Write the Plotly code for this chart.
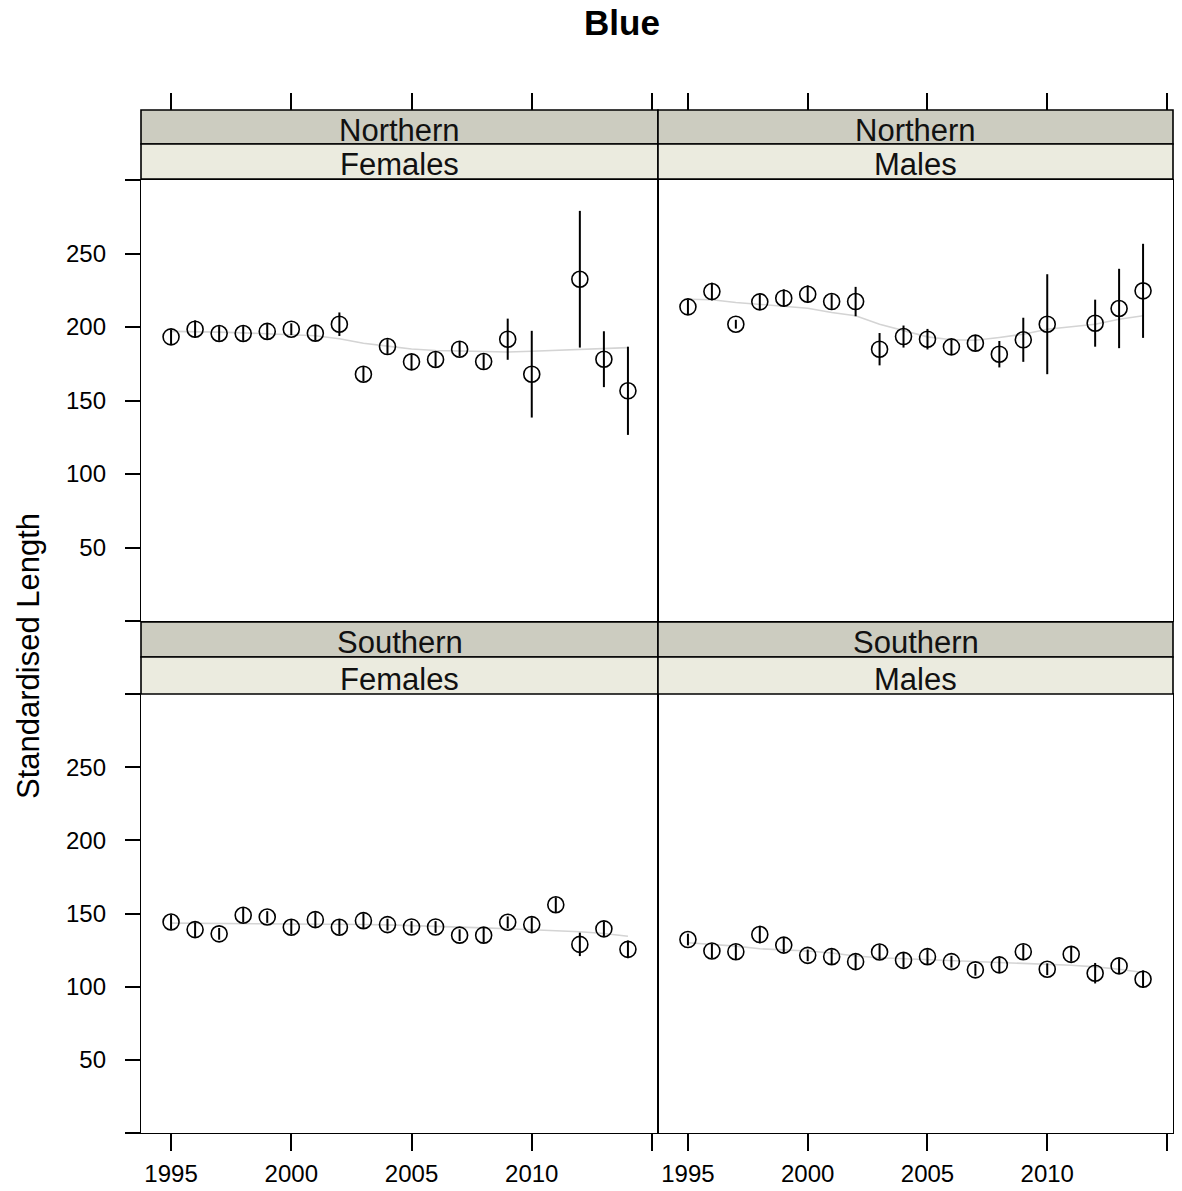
import plotly.graph_objects as go

# ---------------- data ----------------
years_north = [1995, 1996, 1997, 1998, 1999, 2000, 2001, 2002, 2003, 2004,
               2005, 2006, 2007, 2008, 2009, 2010, 2012, 2013, 2014]
years_south = [1995, 1996, 1997, 1998, 1999, 2000, 2001, 2002, 2003, 2004,
               2005, 2006, 2007, 2008, 2009, 2010, 2011, 2012, 2013, 2014]

nf_mean = [193.3, 198.5, 195.6, 195.6, 197.0, 198.5, 195.8, 201.9, 167.9, 186.7,
           176.3, 177.9, 184.9, 176.5, 191.7, 167.9, 232.5, 178.1, 156.6]
nf_err = [5, 6, 5, 5, 5, 4, 5, 8, 5, 5, 5, 5, 5, 5, 14, 29.5, 46.5, 19, 30]
nf_smooth = [197, 197, 196.5, 196, 195.5, 195, 194, 192, 189, 187,
             185, 184, 183.5, 183.5, 183, 183.5, 185, 185.5, 186]

nm_mean = [213.7, 224.1, 201.9, 217.1, 219.6, 222.3, 217.3, 217.3, 184.9, 193.5,
           191.7, 186.5, 189.0, 181.5, 191.3, 201.9, 202.6, 212.6, 224.6]
nm_err = [5, 6, 3, 5, 6, 6, 5, 10, 11, 7.5, 7, 5, 5, 9, 15, 34, 16, 27, 32]
nm_smooth = [218.9, 218.5, 216.7, 215.5, 214.4, 212.8, 209.9, 207.6, 201.9, 197.4,
             193.3, 191.3, 191.0, 192.9, 195.1, 198.5, 201.9, 205.3, 207.6]

sf_mean = [144.2, 139.0, 136.1, 148.8, 147.6, 140.6, 145.8, 140.6, 145.1, 142.4,
           140.8, 140.8, 135.2, 135.2, 144.0, 142.4, 156.0, 128.9, 139.5, 125.5]
sf_err = [5, 5, 4, 5, 4, 5, 5, 5, 5, 4, 4, 4, 4, 5, 4, 5, 5, 8, 5, 6]
sf_smooth = [143.4, 143.3, 143.2, 143.2, 143.2, 143.1, 143.0, 142.8, 142.5, 142.2,
             141.8, 141.3, 140.8, 140.2, 139.6, 139.0, 138.3, 137.5, 136.3, 134.5]

sm_mean = [132.2, 124.4, 123.9, 135.6, 128.4, 121.4, 120.5, 117.1, 123.7, 118.0,
           120.5, 117.1, 111.5, 114.9, 123.9, 111.9, 122.1, 109.2, 114.2, 105.1]
sm_err = [4, 5, 5, 6, 5, 4, 5, 5, 5, 5, 5, 4, 4, 5, 5, 4, 5, 7, 5, 6]
sm_smooth = [130.0, 128.8, 127.7, 125.9, 125.2, 124.4, 123.0, 121.0, 119.8, 119.2,
             118.7, 118.0, 117.1, 116.6, 115.8, 115.2, 114.6, 113.5, 111.9, 109.7]

x_tickvals = [1995, 2000, 2005, 2010, 2015]
x_ticktext = ["1995", "2000", "2005", "2010", ""]
y_tickvals = [0, 50, 100, 150, 200, 250, 300]
y_ticktext = ["", "50", "100", "150", "200", "250", ""]

strip_top = ["Northern", "Northern", "Southern", "Southern"]
strip_bottom = ["Females", "Males", "Females", "Males"]

# ---------------- layout geometry ----------------
# page body has an 8px margin; figure is sized to fit the window
OFF = 8
W, H = 1182 - 2 * OFF, 1191 - 2 * OFF
FONT = "Liberation Sans, Arial, sans-serif"


def px(p):
    return (p - OFF) / W


def py(p):
    return 1 - (p - OFF) / H


xL = [px(141), px(658)]
xR = [px(658), px(1173)]
yT = [py(621), py(180)]
yB = [py(1133), py(694)]
XR = [1993.75, 2015.25]
YR = [0, 300]

panels = [
    ("x", "y", years_north, nf_mean, nf_err, nf_smooth),
    ("x2", "y2", years_north, nm_mean, nm_err, nm_smooth),
    ("x3", "y3", years_south, sf_mean, sf_err, sf_smooth),
    ("x4", "y4", years_south, sm_mean, sm_err, sm_smooth),
]

fig = go.Figure()
for xa, ya, yrs, mean, err, smooth in panels:
    fig.add_trace(go.Scatter(
        x=yrs, y=smooth, xaxis=xa, yaxis=ya, mode="lines",
        line=dict(color="#D4D4D4", width=1.6), hoverinfo="skip", showlegend=False))
    fig.add_trace(go.Scatter(
        x=yrs, y=mean, xaxis=xa, yaxis=ya, mode="markers",
        marker=dict(symbol="circle-open", size=16, color="black",
                    line=dict(color="black", width=1.6)),
        error_y=dict(type="data", array=err, symmetric=True, color="black",
                     thickness=2, width=0),
        showlegend=False))

# dummy traces for the top tick axes (above the strips)
fig.add_trace(go.Scatter(x=[2000], y=[-1000], xaxis="x5", yaxis="y", mode="markers",
                         marker=dict(opacity=0), hoverinfo="skip", showlegend=False))
fig.add_trace(go.Scatter(x=[2000], y=[-1000], xaxis="x6", yaxis="y2", mode="markers",
                         marker=dict(opacity=0), hoverinfo="skip", showlegend=False))

tickfont = dict(family=FONT, size=24, color="black")
LW = 1.3
common_x = dict(range=XR, showgrid=False, zeroline=False, showline=True,
                linecolor="black", linewidth=LW, mirror=True, automargin=False,
                tickvals=x_tickvals, ticktext=x_ticktext, tickfont=tickfont,
                tickcolor="black", tickwidth=1.6)
common_y = dict(range=YR, showgrid=False, zeroline=False, showline=True,
                linecolor="black", linewidth=LW, mirror=True, automargin=False,
                tickvals=y_tickvals, ticktext=y_ticktext, tickfont=tickfont,
                tickcolor="black", tickwidth=1.6, ticklen=15)

layout = dict(
    width=W, height=H,
    margin=dict(l=0, r=0, t=0, b=0),
    paper_bgcolor="white", plot_bgcolor="white",
    showlegend=False,
    title=dict(text="<b>Blue</b>", x=px(622), y=py(23), xanchor="center",
               yanchor="middle", font=dict(family=FONT, size=35, color="black")),
    xaxis=dict(common_x, domain=xL, anchor="y", ticks="", showticklabels=False),
    xaxis2=dict(common_x, domain=xR, anchor="y2", ticks="", showticklabels=False),
    xaxis3=dict(common_x, domain=xL, anchor="y3", ticks="outside", ticklen=17,
                ticklabelstandoff=2),
    xaxis4=dict(common_x, domain=xR, anchor="y4", ticks="outside", ticklen=17,
                ticklabelstandoff=2),
    xaxis5=dict(range=XR, domain=xL, overlaying="x", anchor="free", position=py(110),
                side="top", ticks="outside", ticklen=17, tickcolor="black", tickwidth=1.6,
                tickvals=x_tickvals, showticklabels=False, showgrid=False,
                zeroline=False, showline=False, automargin=False),
    xaxis6=dict(range=XR, domain=xR, overlaying="x2", anchor="free", position=py(110),
                side="top", ticks="outside", ticklen=17, tickcolor="black", tickwidth=1.6,
                tickvals=x_tickvals, showticklabels=False, showgrid=False,
                zeroline=False, showline=False, automargin=False),
    yaxis=dict(common_y, domain=yT, anchor="x", side="left", ticks="outside",
               ticklabelstandoff=14),
    yaxis2=dict(common_y, domain=yT, anchor="x2", side="right", ticks="outside",
                showticklabels=False),
    yaxis3=dict(common_y, domain=yB, anchor="x3", side="left", ticks="outside",
                ticklabelstandoff=14),
    yaxis4=dict(common_y, domain=yB, anchor="x4", side="right", ticks="outside",
                showticklabels=False),
)
fig.update_layout(**layout)

# strips
strip_rows = [(110, 144, 179, 0), (622, 657, 694, 2)]
shapes = []
annotations = []
for (t0, t1, t2, idx) in strip_rows:
    for k, dom in enumerate([xL, xR]):
        i = idx + k
        shapes.append(dict(type="rect", xref="paper", yref="paper",
                           x0=dom[0], x1=dom[1], y0=py(t1), y1=py(t0),
                           fillcolor="#CCCCC0", line=dict(color="black", width=1.6)))
        shapes.append(dict(type="rect", xref="paper", yref="paper",
                           x0=dom[0], x1=dom[1], y0=py(t2), y1=py(t1),
                           fillcolor="#EBEBDF", line=dict(color="black", width=1.6)))
        cx = (dom[0] + dom[1]) / 2
        annotations.append(dict(text=strip_top[i], x=cx, y=py((t0 + t1) / 2 + 3),
                                xref="paper", yref="paper", showarrow=False,
                                xanchor="center", yanchor="middle",
                                font=dict(family=FONT, size=31, color="#111111")))
        annotations.append(dict(text=strip_bottom[i], x=cx, y=py((t1 + t2) / 2 + 3.5),
                                xref="paper", yref="paper", showarrow=False,
                                xanchor="center", yanchor="middle",
                                font=dict(family=FONT, size=31, color="#111111")))

annotations.append(dict(text="Standardised Length", x=px(28), y=py(656),
                        xref="paper", yref="paper", showarrow=False, textangle=-90,
                        xanchor="center", yanchor="middle",
                        font=dict(family=FONT, size=31, color="black")))

fig.update_layout(shapes=shapes, annotations=annotations)
fig.write_html("out.html")
